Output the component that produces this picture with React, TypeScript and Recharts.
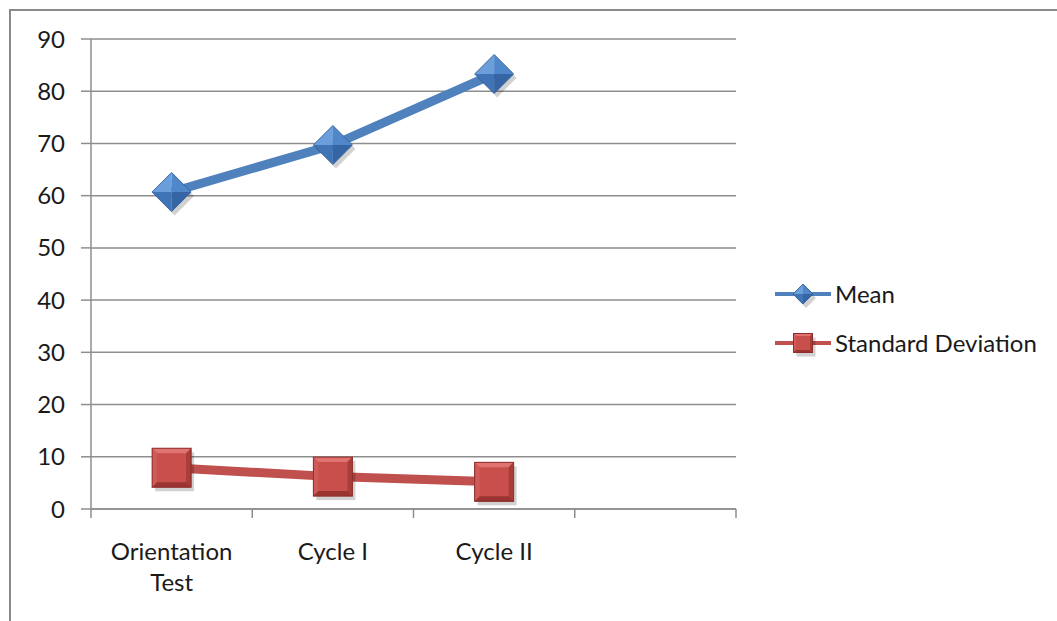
import React from 'react';
import { LineChart, Line, XAxis, YAxis, CartesianGrid, Legend } from 'recharts';

const categories = ['Orientation Test', 'Cycle I', 'Cycle II', ''];
const meanValues = [60.7, 69.7, 83.3, null];
const sdValues = [7.9, 6.2, 5.2, null];
const yTicks = [0, 10, 20, 30, 40, 50, 60, 70, 80, 90];
const frameTicks = [0, 1, 2, 3, 4];

const data = categories.map((name, i) => ({
    name,
    mean: meanValues[i],
    sd: sdValues[i],
}));

const FONT = 'Lato, "Liberation Sans", sans-serif';
const GRID = '#8e8e8e';
const BLUE = '#4f81bd';
const RED = '#c0504d';

const Diamond = ({ cx, cy, r = 19.5 }) => (
    <g>
        <polygon points={`${cx - r + 3},${cy + 4} ${cx + 3},${cy - r + 4} ${cx + r + 3},${cy + 4} ${cx + 3},${cy + r + 4}`} fill="#000" opacity={0.18} />
        <polygon points={`${cx - r},${cy} ${cx},${cy - r} ${cx},${cy}`} fill="#6a9fdc" />
        <polygon points={`${cx},${cy - r} ${cx + r},${cy} ${cx},${cy}`} fill="#5087cb" />
        <polygon points={`${cx - r},${cy} ${cx},${cy + r} ${cx},${cy}`} fill="#3f74b6" />
        <polygon points={`${cx},${cy + r} ${cx + r},${cy} ${cx},${cy}`} fill="#3565a4" />
        <polygon points={`${cx - r},${cy} ${cx},${cy - r} ${cx + r},${cy} ${cx},${cy + r}`} fill="none" stroke="#3a679f" strokeWidth={1} />
    </g>
);

const Square = ({ cx, cy, h = 19.5, b = 5 }) => {
    const x0 = cx - h, x1 = cx + h, y0 = cy - h, y1 = cy + h;
    return (
        <g>
            <rect x={x0 + 3} y={y0 + 4} width={2 * h} height={2 * h} fill="#000" opacity={0.18} />
            <rect x={x0} y={y0} width={2 * h} height={2 * h} fill="#c94f4c" />
            <polygon points={`${x0},${y0} ${x1},${y0} ${x1 - b},${y0 + b} ${x0 + b},${y0 + b}`} fill="#e07370" />
            <polygon points={`${x0},${y0} ${x0 + b},${y0 + b} ${x0 + b},${y1 - b} ${x0},${y1}`} fill="#cf5a57" />
            <polygon points={`${x1},${y0} ${x1},${y1} ${x1 - b},${y1 - b} ${x1 - b},${y0 + b}`} fill="#a93d3a" />
            <polygon points={`${x0},${y1} ${x0 + b},${y1 - b} ${x1 - b},${y1 - b} ${x1},${y1}`} fill="#9a3431" />
            <rect x={x0} y={y0} width={2 * h} height={2 * h} fill="none" stroke="#8c2e2b" strokeWidth={1} />
        </g>
    );
};

const renderDiamond = (props) => {
    const { cx, cy, index } = props;
    if (cx == null || cy == null) return <g key={`d-${index}`} />;
    return <Diamond key={`d-${index}`} cx={cx} cy={cy} />;
};

const renderSquare = (props) => {
    const { cx, cy, index } = props;
    if (cx == null || cy == null) return <g key={`s-${index}`} />;
    return <Square key={`s-${index}`} cx={cx} cy={cy} />;
};

// long labels wrap onto two lines, like the source chart
const CategoryTick = ({ x, payload }) => {
    const value = String(payload.value || '');
    const lines = value.length > 10 ? value.split(' ') : [value];
    return (
        <text x={x} y={560} textAnchor="middle" fontSize={24} fontFamily={FONT} fill="#1a1a1a">
            {lines.map((line, i) => (
                <tspan key={i} x={x} dy={i === 0 ? 0 : 31}>{line}</tspan>
            ))}
        </text>
    );
};

const LegendContent = () => (
    <div style={{ fontFamily: FONT, fontSize: 24, color: '#1a1a1a', whiteSpace: 'nowrap' }}>
        <div style={{ display: 'flex', alignItems: 'center', height: 49 }}>
            <svg width={60} height={30}>
                <line x1={0} y1={15} x2={56} y2={15} stroke={BLUE} strokeWidth={4} />
                <Diamond cx={28} cy={15} r={10} />
            </svg>
            <span>Mean</span>
        </div>
        <div style={{ display: 'flex', alignItems: 'center', height: 49 }}>
            <svg width={60} height={30}>
                <line x1={0} y1={15} x2={56} y2={15} stroke={RED} strokeWidth={4} />
                <Square cx={28} cy={15} h={9.5} b={2.5} />
            </svg>
            <span>Standard Deviation</span>
        </div>
    </div>
);

export default function App() {
    return (
        <div style={{ position: 'absolute', left: 0, top: 0, width: 1057, height: 621, overflow: 'hidden', background: '#fff' }}>
            <div style={{ position: 'absolute', left: 9, top: 9, width: 1200, height: 800, border: '2px solid #8a8a8a' }} />
            <div style={{ position: 'absolute', left: 0, top: 0 }}>
                <LineChart
                    width={1057}
                    height={621}
                    data={data}
                    margin={{ top: 39, right: 41, left: 31, bottom: 52 }}
                >
                    <CartesianGrid xAxisId="labels" vertical={false} stroke={GRID} strokeWidth={1.5} />
                    <XAxis
                        xAxisId="axis"
                        type="number"
                        dataKey="edge"
                        domain={[0, 4]}
                        ticks={frameTicks}
                        allowDataOverflow
                        height={1}
                        tickSize={9}
                        tickFormatter={() => ''}
                        stroke={GRID}
                        strokeWidth={1.5}
                        tickLine={{ stroke: GRID, strokeWidth: 1.5 }}
                    />
                    <XAxis
                        xAxisId="labels"
                        dataKey="name"
                        scale="band"
                        height={59}
                        axisLine={false}
                        tickLine={false}
                        tickSize={0}
                        interval={0}
                        tick={<CategoryTick />}
                    />
                    <YAxis
                        domain={[0, 90]}
                        ticks={yTicks}
                        width={60}
                        tickSize={10}
                        tickMargin={16}
                        stroke={GRID}
                        strokeWidth={1.5}
                        tickLine={{ stroke: GRID, strokeWidth: 1.5 }}
                        tick={{ fontSize: 24, fill: '#1a1a1a', fontFamily: FONT }}
                    />
                    <Legend
                        layout="vertical"
                        align="right"
                        verticalAlign="middle"
                        width={280}
                        content={<LegendContent />}
                        wrapperStyle={{ top: 269, left: 775, right: 'auto', width: 280 }}
                    />
                    <Line
                        xAxisId="labels"
                        type="linear"
                        dataKey="mean"
                        name="Mean"
                        stroke={BLUE}
                        strokeWidth={9}
                        dot={renderDiamond}
                        activeDot={false}
                        isAnimationActive={false}
                    />
                    <Line
                        xAxisId="labels"
                        type="linear"
                        dataKey="sd"
                        name="Standard Deviation"
                        stroke={RED}
                        strokeWidth={9}
                        dot={renderSquare}
                        activeDot={false}
                        isAnimationActive={false}
                    />
                </LineChart>
            </div>
        </div>
    );
}
